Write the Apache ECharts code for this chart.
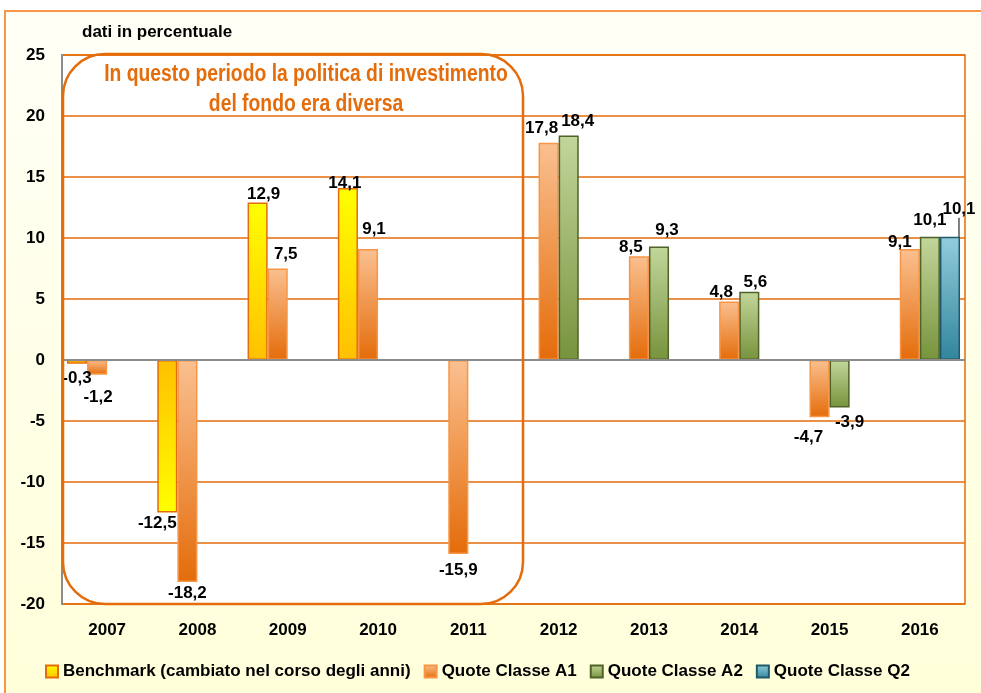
<!DOCTYPE html>
<html>
<head>
<meta charset="utf-8">
<title>Rendimenti</title>
<script src="https://cdn.jsdelivr.net/npm/echarts@6/dist/echarts.min.js"></script>
<style>
	html, body { margin: 0; padding: 0; background: #fff; }
	#chart { width: 981px; height: 693px; }
</style>
</head>
<body>
<div id="chart"></div>
<script>
var years = ['2007', '2008', '2009', '2010', '2011', '2012', '2013', '2014', '2015', '2016'];
var benchmark = [-0.3, -12.5, 12.9, 14.1, null, null, null, null, null, null];
var classeA1 = [-1.2, -18.2, 7.5, 9.1, -15.9, 17.8, 8.5, 4.8, -4.7, 9.1];
var classeA2 = [null, null, null, null, null, 18.4, 9.3, 5.6, -3.9, 10.1];
var classeQ2 = [null, null, null, null, null, null, null, null, null, 10.1];
var seriesNames = ['Benchmark (cambiato nel corso degli anni)', 'Quote Classe A1', 'Quote Classe A2', 'Quote Classe Q2'];
var yTicks = { min: -20, max: 25, step: 5 };

// spostamenti delle etichette, come nell'originale (serie -> indice anno -> [dx, dy])
var nudges = [
	{ 0: [0, 0], 1: [-10, -4], 2: [6, 6], 3: [-3, 10] },
	{ 0: [1, 8], 1: [0, -3], 2: [8, 0], 3: [6, -5], 4: [0, 2], 5: [-7, 0], 6: [-8, 6], 7: [-8, 5], 8: [-11, 5], 9: [-10, 8] },
	{ 5: [9, 0], 6: [8, -2], 7: [6, 5], 8: [10, 0], 9: [0, -2] },
	{ 9: [9, -13] }
];

var font = "'Liberation Sans', Arial, sans-serif";
var orange = '#E46C0A';

function grad(top, bottom) {
	return new echarts.graphic.LinearGradient(0, 0, 0, 1, [
		{ offset: 0, color: top },
		{ offset: 1, color: bottom }
	]);
}

function fmt(v) {
	return v.toFixed(1).replace('.', ',');
}

// il benchmark ha il giallo sulla punta della barra
function benchColor(v) {
	return v >= 0 ? grad('#FFFF00', '#FFC000') : grad('#FFC000', '#FFFF00');
}

function toData(values, colorFn) {
	return values.map(function(v) {
		if (v == null) return null;
		var item = {
			value: v,
			label: { position: v >= 0 ? 'top' : 'bottom' }
		};
		if (colorFn) item.itemStyle = { color: colorFn(v) };
		return item;
	});
}

function barSeries(idx, values, color, border, colorFn) {
	return {
		name: seriesNames[idx],
		type: 'bar',
		barGap: '0%',
		barCategoryGap: '11%',
		data: toData(values, colorFn),
		itemStyle: { color: color, borderColor: border, borderWidth: 1.5 },
		label: {
			show: true,
			color: '#000',
			fontFamily: font,
			fontWeight: 'bold',
			fontSize: 17,
			distance: 6,
			formatter: function(p) { return fmt(p.value); }
		},
		labelLayout: function(p) {
			var n = nudges[idx][p.dataIndex];
			return n ? { dx: n[0], dy: n[1] } : {};
		}
	};
}

var chart = echarts.init(document.getElementById('chart'));

var series = [
	barSeries(0, benchmark, grad('#FFFF00', '#FFC000'), orange, benchColor),
	barSeries(1, classeA1, grad('#FAC090', '#E46C0A'), '#F79646'),
	barSeries(2, classeA2, grad('#C3D69B', '#77933C'), '#4F6228'),
	barSeries(3, classeQ2, grad('#93CDDD', '#31859C'), '#215968')
];
series[1].markLine = {
	silent: true,
	symbol: 'none',
	label: { show: false },
	lineStyle: { color: '#8C8C8C', width: 2, type: 'solid' },
	data: [{ yAxis: 0 }]
};
series[3].labelLine = { show: true, lineStyle: { color: '#000', width: 1 } };

var option = {
	backgroundColor: '#fff',
	animation: false,
	textStyle: { fontFamily: font },
	graphic: [
		{
			type: 'rect',
			z: -10,
			shape: { x: 5, y: 11, width: 1010, height: 700 },
			style: {
				fill: grad('#FFFFF7', '#FFFFD9'),
				stroke: '#F79646',
				lineWidth: 2
			}
		},
		{
			type: 'rect',
			z: 50,
			shape: { x: 63, y: 54, width: 460, height: 550, r: 42 },
			style: { fill: null, stroke: orange, lineWidth: 2.5 }
		},
		{
			type: 'text',
			z: 50,
			x: 306,
			y: 60,
			scaleX: 0.84,
			style: {
				text: 'In questo periodo la politica di investimento\ndel fondo era diversa',
				fill: orange,
				font: 'bold 23px ' + font,
				align: 'center',
				lineHeight: 30
			}
		},
		{
			type: 'text',
			x: 82,
			y: 24,
			style: {
				text: 'dati in percentuale',
				fill: '#000',
				font: 'bold 17px ' + font
			}
		}
	],
	grid: {
		left: 62,
		right: 16,
		top: 55,
		bottom: 89,
		show: true,
		backgroundColor: '#fff',
		borderColor: orange,
		borderWidth: 1.5
	},
	legend: {
		left: 40,
		top: 658,
		icon: 'rect',
		itemWidth: 12,
		itemHeight: 12,
		itemGap: 13,
		textStyle: { fontFamily: font, fontWeight: 'bold', fontSize: 17, color: '#000' },
		data: seriesNames
	},
	xAxis: {
		type: 'category',
		data: years,
		axisLine: { show: false },
		axisTick: { show: false },
		axisLabel: {
			margin: 18,
			color: '#000',
			fontFamily: font,
			fontWeight: 'bold',
			fontSize: 17
		}
	},
	yAxis: {
		type: 'value',
		min: yTicks.min,
		max: yTicks.max,
		interval: yTicks.step,
		axisLine: { show: true, lineStyle: { color: '#8C8C8C', width: 2 } },
		axisTick: { show: false },
		splitLine: { lineStyle: { color: orange, width: 1.5 } },
		axisLabel: {
			margin: 17,
			color: '#000',
			fontFamily: font,
			fontWeight: 'bold',
			fontSize: 17
		}
	},
	series: series
};

chart.setOption(option);
</script>
</body>
</html>
